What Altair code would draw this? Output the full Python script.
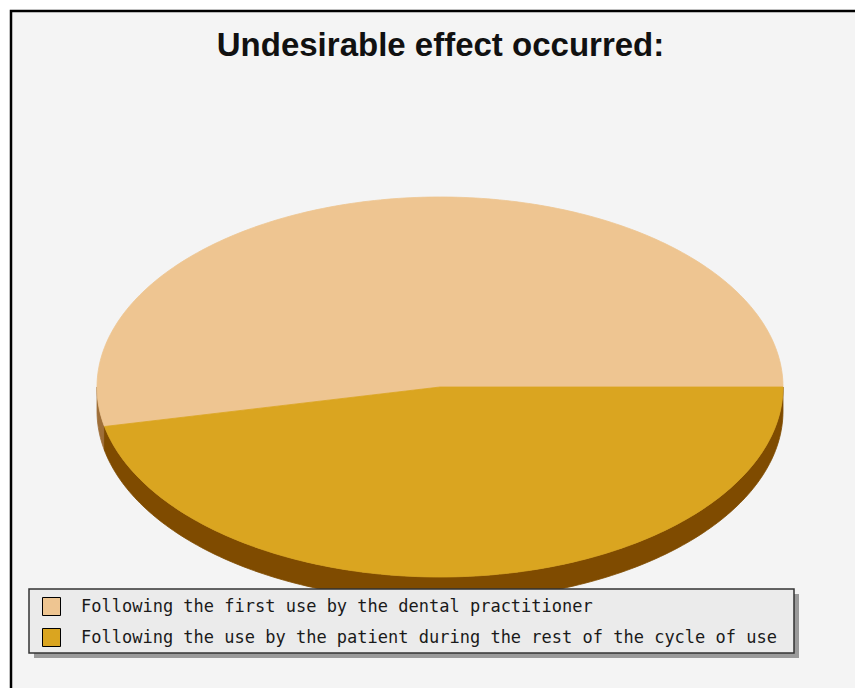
import numpy as np
import pandas as pd
import altair as alt

# ---- data -------------------------------------------------------------
categories = [
    "Following the first use by the dental practitioner",
    "Following the use by the patient during the rest of the cycle of use",
]
counts = [8, 7]
face_colors = ["#EEC591", "#DAA520"]
side_colors = ["#9E6E38", "#7F4B00"]
title_text = "Undesirable effect occurred:"

# ---- geometry of the tilted pie ---------------------------------------
W, H = 855, 688
CX, CY = 440, 387          # pie centre in pixels
RX, RY = 343, 190          # ellipse radii in pixels
DEPTH = 24 / RY            # thickness of the pie, in y units

x_dom = [-CX / RX, (W - CX) / RX]
y_dom = [-(H - CY) / RY, CY / RY]

total = float(sum(counts))
bounds = np.cumsum([0] + counts) / total * 360.0


def arc(lo, hi):
    n = max(2, int(np.ceil(hi - lo)) + 1)
    a = np.radians(np.linspace(lo, hi, n))
    return np.cos(a), np.sin(a)


face_rows, side_rows = [], []
for cat, face, shade, lo, hi in zip(categories, face_colors, side_colors,
                                    bounds[:-1], bounds[1:]):
    cx_, sy_ = arc(lo, hi)
    xs = np.concatenate([[0.0], cx_, [0.0]])
    ys = np.concatenate([[0.0], sy_, [0.0]])
    for i, (px, py) in enumerate(zip(xs, ys)):
        face_rows.append({"category": cat, "edge": face, "i": i, "x": px, "y": py})
    # only the front half of the rim is visible
    s0, s1 = max(lo, 180.0), min(hi, 360.0)
    if s1 > s0:
        rx_, ry_ = arc(s0, s1)
        xs = np.concatenate([rx_, rx_[::-1], rx_[:1]])
        ys = np.concatenate([ry_, ry_[::-1] - DEPTH, ry_[:1]])
        for i, (px, py) in enumerate(zip(xs, ys)):
            side_rows.append({"shade": shade, "i": i, "x": px, "y": py})

faces = pd.DataFrame(face_rows)
sides = pd.DataFrame(side_rows)
legend_df = pd.DataFrame({"category": categories})
one = pd.DataFrame({"k": [0]})

xenc = alt.X("x:Q", scale=alt.Scale(domain=x_dom, nice=False, zero=False), axis=None)
yenc = alt.Y("y:Q", scale=alt.Scale(domain=y_dom, nice=False, zero=False), axis=None)
face_scale = alt.Scale(domain=categories, range=face_colors)

key_legend = alt.Legend(
    title=None, orient="none", legendX=42, legendY=597,
    symbolType="square", symbolSize=324,
    symbolStrokeColor="black", symbolStrokeWidth=1, symbolOpacity=1,
    labelFont="DejaVu Sans Mono", labelFontSize=17, labelColor="#1a1a1a",
    labelOffset=20, rowPadding=8, padding=0, labelLimit=0,
)

frame = alt.Chart(one).mark_rect(
    fill="#f4f4f4", stroke="black", strokeWidth=2.5
).encode(x=alt.value(11), y=alt.value(11), x2=alt.value(W + 40), y2=alt.value(H + 40))

# outlined squares kept outside the view; they give the legend its symbols
key = alt.Chart(legend_df).mark_square(
    filled=True, size=324, stroke="black", strokeWidth=1, opacity=1
).encode(
    x=alt.value(-300), y=alt.value(-300),
    fill=alt.Fill("category:N", scale=face_scale, legend=key_legend),
)

rim = alt.Chart(sides).mark_line(strokeWidth=0.8).encode(
    x=xenc, y=yenc,
    order=alt.Order("i:Q"),
    fill=alt.Fill("shade:N", scale=None),
    stroke=alt.Stroke("shade:N", scale=None),
)

top = alt.Chart(faces).mark_line(strokeWidth=0.8).encode(
    x=xenc, y=yenc,
    order=alt.Order("i:Q"),
    fill=alt.Fill("category:N", scale=face_scale, legend=key_legend),
    stroke=alt.Stroke("edge:N", scale=None),
)

shadow = alt.Chart(one).mark_rect(fill="#9a9a9a").encode(
    x=alt.value(34), y=alt.value(594), x2=alt.value(799), y2=alt.value(658)
)
box = alt.Chart(one).mark_rect(fill="#ebebeb", stroke="#333333", strokeWidth=1.5).encode(
    x=alt.value(29), y=alt.value(589), x2=alt.value(794), y2=alt.value(653)
)

title = alt.Chart(one).mark_text(
    text=title_text, font="Liberation Sans", fontSize=33, fontWeight="bold",
    color="#111111", align="center", baseline="alphabetic",
).encode(x=alt.value(440.5), y=alt.value(56))

chart = alt.layer(frame, key, rim, top, shadow, box, title).properties(
    width=W, height=H, padding=0, autosize="none", background="white"
).configure_view(stroke=None)

chart.save("out.html", embed_options={"renderer": "svg", "actions": False})
